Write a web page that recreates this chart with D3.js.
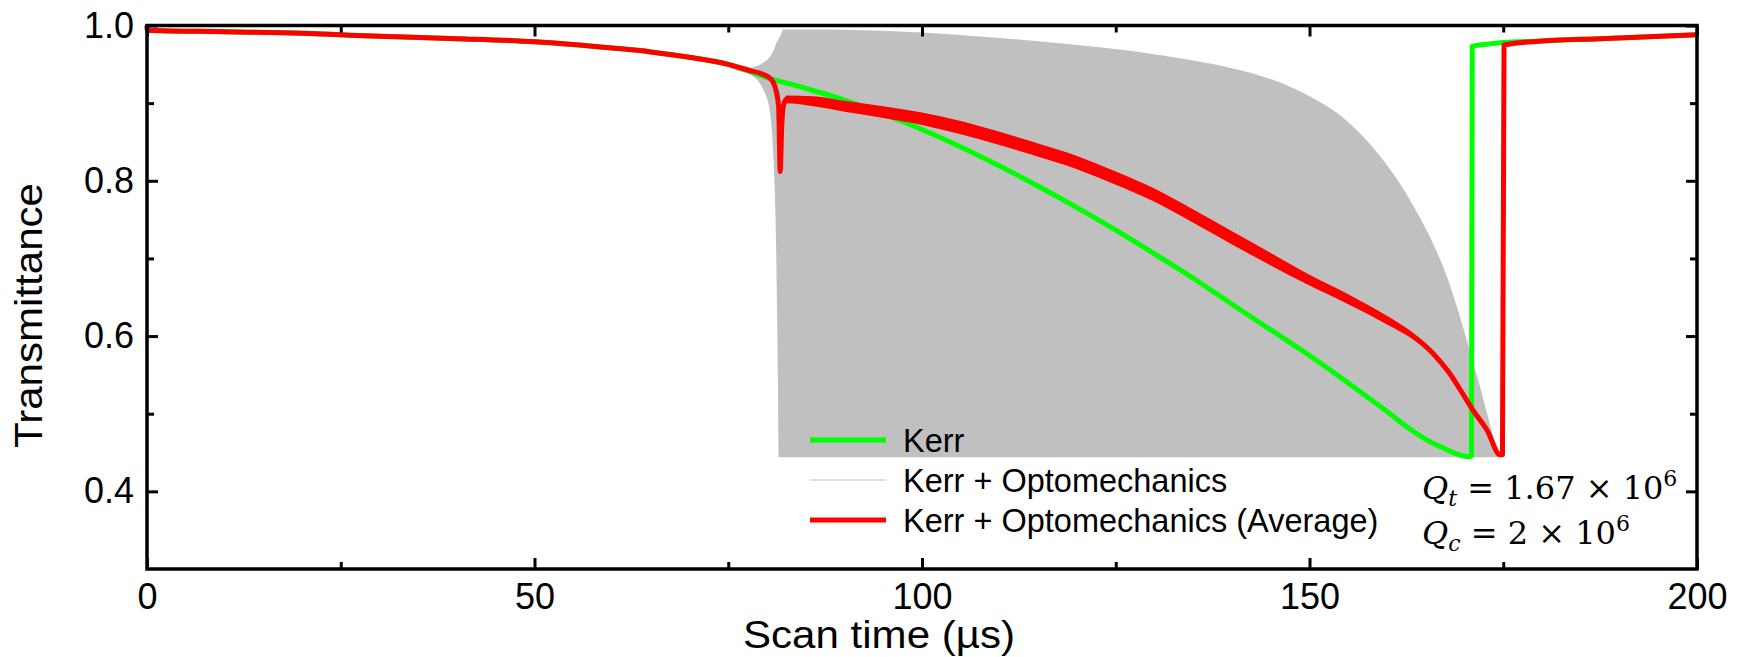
<!DOCTYPE html>
<html>
<head>
<meta charset="utf-8">
<script src="https://cdn.jsdelivr.net/npm/d3@7"></script>
<style>
  body { margin: 0; background: #fff; }
  svg { display: block; }
</style>
</head>
<body>
<svg id="chart" width="1738" height="657"></svg>
<script>
// Kerr-only transmission during the laser scan (time in µs)
const kerrTime = [0, 0.05, 10, 20, 25, 30, 40, 50, 60, 65, 70, 75, 80, 85, 90, 95, 100, 105, 110, 115, 120, 125, 130, 135, 140, 145, 150, 155, 160, 163, 165, 167, 168.5, 169.7, 170.5, 170.9, 171.0, 173, 175, 180, 187.5, 200];
const kerrT    = [1.0, 0.994, 0.992, 0.990, 0.988, 0.986, 0.983, 0.979, 0.971, 0.966, 0.959, 0.950, 0.933, 0.919, 0.904, 0.886, 0.866, 0.8435, 0.819, 0.793, 0.7655, 0.7365, 0.706, 0.6745, 0.641, 0.608, 0.575, 0.5395, 0.503, 0.480, 0.467, 0.457, 0.450, 0.446, 0.4445, 0.446, 0.973, 0.976, 0.978, 0.980, 0.983, 0.988];

// Kerr + optomechanics, averaged trace
const avgTime = [0, 0.05, 10, 20, 25, 30, 40, 50, 60, 65, 70, 75, 77.8, 79.5, 80.4, 81.0, 81.5, 81.7, 81.9, 82.1, 82.5, 86, 90, 95, 100, 105, 110, 115, 120, 125, 130, 135, 140, 145, 150, 155, 160, 163, 166, 168, 170, 171, 172.9, 174.6, 174.9, 175.1, 180, 187.5, 200];
const avgT    = [1.0, 0.994, 0.992, 0.990, 0.988, 0.986, 0.983, 0.979, 0.971, 0.966, 0.959, 0.950, 0.942, 0.937, 0.932, 0.922, 0.896, 0.812, 0.870, 0.896, 0.905, 0.903, 0.897, 0.890, 0.882, 0.871, 0.857, 0.842, 0.826, 0.806, 0.784, 0.757, 0.729, 0.701, 0.674, 0.649, 0.622, 0.603, 0.577, 0.553, 0.522, 0.506, 0.479, 0.447, 0.447, 0.975, 0.980, 0.983, 0.988];
// residual oscillation half-width of the averaged trace (above / below)
const avgWiggleUp   = [0, 0, 0, 0, 0, 0, 0, 0, 0, 0, 0, 0, 0, 0, 0, 0, 0, 0, 0, 0, 0.005, 0.006, 0.006, 0.006, 0.006, 0.006, 0.006, 0.006, 0.006, 0.006, 0.006, 0.006, 0.006, 0.006, 0.005, 0.005, 0.004, 0.003, 0.002, 0.001, 0, 0, 0, 0, 0, 0, 0, 0, 0];
const avgWiggleDown = [0, 0, 0, 0, 0, 0, 0, 0, 0, 0, 0, 0, 0, 0, 0, 0, 0, 0, 0, 0, 0.005, 0.007, 0.008, 0.009, 0.010, 0.011, 0.011, 0.011, 0.011, 0.011, 0.011, 0.011, 0.011, 0.010, 0.009, 0.008, 0.007, 0.005, 0.003, 0.002, 0, 0, 0, 0, 0, 0, 0, 0, 0];

// Envelope of the fast-oscillating Kerr + optomechanics trace
const envTime  = [74, 76, 77.8, 79.5, 80.4, 80.8, 81.0, 81.2, 81.4, 81.5, 81.7, 82.1, 86, 90, 100, 110, 120, 128, 135, 140, 145, 148.8, 150, 152, 154, 156, 158, 160, 162, 164, 166, 168, 170, 171, 172, 173, 173.7, 174.3, 174.8];
const envUpper = [0.952, 0.947, 0.946, 0.952, 0.960, 0.967, 0.972, 0.977, 0.981, 0.983, 0.986, 0.995, 0.995, 0.9945, 0.991, 0.984, 0.975, 0.966, 0.955, 0.945, 0.931, 0.915, 0.909, 0.8975, 0.884, 0.866, 0.845, 0.820, 0.791, 0.757, 0.718, 0.669, 0.605, 0.570, 0.535, 0.497, 0.472, 0.455, 0.445];
const envLower = [0.952, 0.942, 0.937, 0.918, 0.888, 0.836, 0.789, 0.700, 0.550, 0.444, 0.444, 0.444, 0.444, 0.444, 0.444, 0.444, 0.444, 0.444, 0.444, 0.444, 0.444, 0.444, 0.444, 0.444, 0.444, 0.444, 0.444, 0.444, 0.444, 0.444, 0.444, 0.444, 0.444, 0.444, 0.444, 0.444, 0.444, 0.444, 0.445];

// Axis ticks
const xTicks = [0, 50, 100, 150, 200];
const xMinorTicks = [25, 75, 125, 175];
const yTicks = [0.4, 0.6, 0.8, 1.0];
const yMinorTicks = [0.5, 0.7, 0.9];

const legendLabels = ["Kerr", "Kerr + Optomechanics", "Kerr + Optomechanics (Average)"];

// ---------------------------------------------------------------
const plot = { left: 147, right: 1697, top: 25.5, bottom: 569 };
const x = d3.scaleLinear().domain([0, 200]).range([plot.left, plot.right]);
const y = d3.scaleLinear().domain([0.3, 1.0]).range([plot.bottom, plot.top]);

const svg = d3.select("#chart");
const sans = "'Liberation Sans', Arial, Helvetica, sans-serif";
const GREEN = "#00ff00", RED = "#ff0000", GRAY = "#c0c0c0";

// oscillation envelope (grey)
const env = envTime.map((t, i) => ({ t, lo: envLower[i], hi: envUpper[i] }));
svg.append("path")
  .datum(env)
  .attr("fill", GRAY)
  .attr("d", d3.area()
    .x(d => x(d.t))
    .y0(d => y(d.lo))
    .y1(d => y(d.hi))
    .curve(d3.curveMonotoneX));

// Kerr (green)
const kerr = kerrTime.map((t, i) => ({ t, v: kerrT[i] }));
svg.append("path")
  .datum(kerr)
  .attr("fill", "none")
  .attr("stroke", GREEN)
  .attr("stroke-width", 5)
  .attr("stroke-linejoin", "round")
  .attr("d", d3.line().x(d => x(d.t)).y(d => y(d.v)).curve(d3.curveMonotoneX));

// averaged trace (red): wiggle band + centre line
const avg = avgTime.map((t, i) => ({ t, v: avgT[i], up: avgWiggleUp[i], dn: avgWiggleDown[i] }));
svg.append("path")
  .datum(avg)
  .attr("fill", RED)
  .attr("d", d3.area()
    .x(d => x(d.t))
    .y0(d => y(d.v - d.dn))
    .y1(d => y(d.v + d.up))
    .curve(d3.curveMonotoneX));
svg.append("path")
  .datum(avg)
  .attr("fill", "none")
  .attr("stroke", RED)
  .attr("stroke-width", 5)
  .attr("stroke-linejoin", "round")
  .attr("d", d3.line().x(d => x(d.t)).y(d => y(d.v)).curve(d3.curveMonotoneX));

// ---------------------------------------------------------------
// axes (ticks point inward on all four sides)
function styleAxis(g, withText) {
  g.select(".domain").remove();
  g.selectAll(".tick line").attr("stroke", "#000").attr("stroke-width", 3);
  g.selectAll(".tick text")
    .attr("fill", "#000")
    .style("font-family", sans)
    .style("font-size", "36px");
  if (!withText) g.selectAll(".tick text").remove();
}
const MAJ = 11, MIN = 7;

svg.append("g").attr("transform", `translate(0,${plot.bottom})`)
  .call(d3.axisBottom(x).tickValues(xTicks).tickSize(-MAJ).tickSizeOuter(0).tickPadding(14).tickFormat(d3.format("d")))
  .call(g => styleAxis(g, true));
svg.append("g").attr("transform", `translate(0,${plot.bottom})`)
  .call(d3.axisBottom(x).tickValues(xMinorTicks).tickSize(-MIN).tickSizeOuter(0))
  .call(g => styleAxis(g, false));
svg.append("g").attr("transform", `translate(0,${plot.top})`)
  .call(d3.axisTop(x).tickValues(xTicks).tickSize(-MAJ).tickSizeOuter(0))
  .call(g => styleAxis(g, false));
svg.append("g").attr("transform", `translate(0,${plot.top})`)
  .call(d3.axisTop(x).tickValues(xMinorTicks).tickSize(-MIN).tickSizeOuter(0))
  .call(g => styleAxis(g, false));

svg.append("g").attr("transform", `translate(${plot.left},0)`)
  .call(d3.axisLeft(y).tickValues(yTicks).tickSize(-MAJ).tickSizeOuter(0).tickPadding(13).tickFormat(d3.format(".1f")))
  .call(g => styleAxis(g, true));
svg.append("g").attr("transform", `translate(${plot.left},0)`)
  .call(d3.axisLeft(y).tickValues(yMinorTicks).tickSize(-MIN).tickSizeOuter(0))
  .call(g => styleAxis(g, false));
svg.append("g").attr("transform", `translate(${plot.right},0)`)
  .call(d3.axisRight(y).tickValues(yTicks).tickSize(-MAJ).tickSizeOuter(0))
  .call(g => styleAxis(g, false));
svg.append("g").attr("transform", `translate(${plot.right},0)`)
  .call(d3.axisRight(y).tickValues(yMinorTicks).tickSize(-MIN).tickSizeOuter(0))
  .call(g => styleAxis(g, false));

// frame
svg.append("rect")
  .attr("x", plot.left).attr("y", plot.top)
  .attr("width", plot.right - plot.left).attr("height", plot.bottom - plot.top)
  .attr("fill", "none").attr("stroke", "#000").attr("stroke-width", 3.5);

// axis titles
svg.append("text")
  .attr("x", 879).attr("y", 648)
  .attr("text-anchor", "middle")
  .attr("textLength", 272).attr("lengthAdjust", "spacingAndGlyphs")
  .style("font-family", sans).style("font-size", "38px")
  .text("Scan time (µs)");
svg.append("text")
  .attr("transform", "translate(41.5,315.5) rotate(-90)")
  .attr("text-anchor", "middle")
  .attr("textLength", 265).attr("lengthAdjust", "spacingAndGlyphs")
  .style("font-family", sans).style("font-size", "38px")
  .text("Transmittance");

// legend
const legendStyle = [
  { color: GREEN, width: 5 },
  { color: GRAY, width: 1.2 },
  { color: RED, width: 5 }
];
const legend = svg.append("g").attr("transform", "translate(810,440)");
legendLabels.forEach((label, i) => {
  const row = legend.append("g").attr("transform", `translate(0,${i * 40})`);
  row.append("line")
    .attr("x1", 0).attr("x2", 76).attr("y1", 0).attr("y2", 0)
    .attr("stroke", legendStyle[i].color)
    .attr("stroke-width", legendStyle[i].width);
  row.append("text")
    .attr("x", 93).attr("y", 12)
    .style("font-family", sans).style("font-size", "32.5px")
    .text(label);
});

// quality factors
const serif = "'DejaVu Serif', 'Liberation Serif', serif";
function qLabel(yBase, sub, value, exp) {
  const t = svg.append("text")
    .attr("x", 1422).attr("y", yBase)
    .style("font-family", serif).style("font-size", "32px");
  t.append("tspan").style("font-style", "italic").text("Q");
  t.append("tspan").style("font-style", "italic").style("font-size", "22px").attr("dy", 7).text(sub);
  t.append("tspan").attr("dy", -7).text(" = " + value + " × 10");
  t.append("tspan").style("font-size", "22px").attr("dy", -13).text(exp);
}
qLabel(499, "t", "1.67", "6");
qLabel(544, "c", "2", "6");
</script>
</body>
</html>
